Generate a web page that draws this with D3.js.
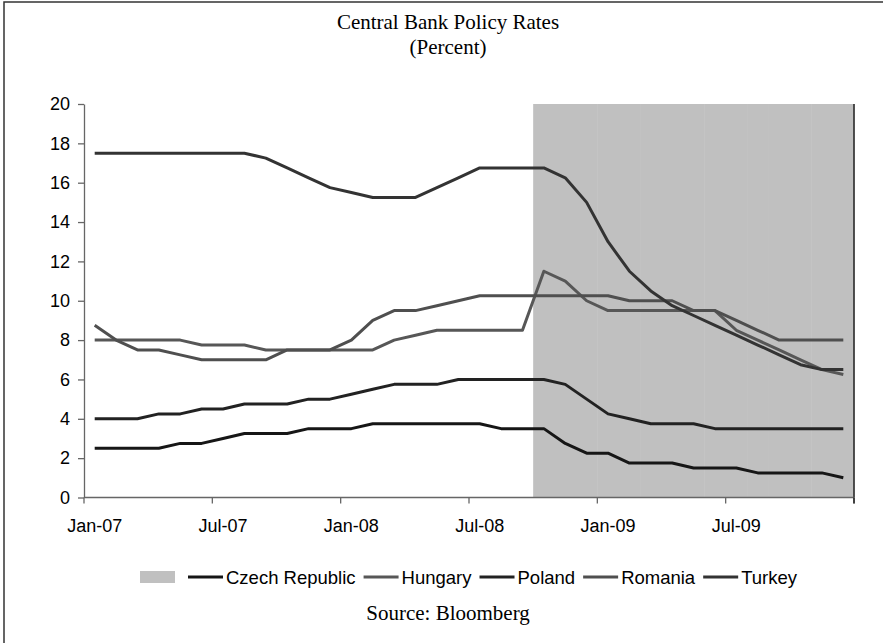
<!DOCTYPE html>
<html>
<head>
<meta charset="utf-8">
<script src="https://cdn.jsdelivr.net/npm/d3@7/dist/d3.min.js"></script>
<style>
  body { margin: 0; background: #fff; }
  svg { display: block; }
</style>
</head>
<body>
<svg id="chart" width="883" height="643"></svg>
<script>
// Monthly observations, Jan-2007 .. Dec-2009
const months = [
  "Jan-07","Feb-07","Mar-07","Apr-07","May-07","Jun-07","Jul-07","Aug-07","Sep-07","Oct-07","Nov-07","Dec-07",
  "Jan-08","Feb-08","Mar-08","Apr-08","May-08","Jun-08","Jul-08","Aug-08","Sep-08","Oct-08","Nov-08","Dec-08",
  "Jan-09","Feb-09","Mar-09","Apr-09","May-09","Jun-09","Jul-09","Aug-09","Sep-09","Oct-09","Nov-09","Dec-09"
];

const czechRepublic = [2.5,2.5,2.5,2.5,2.75,2.75,3.0,3.25,3.25,3.25,3.5,3.5,
                       3.5,3.75,3.75,3.75,3.75,3.75,3.75,3.5,3.5,3.5,2.75,2.25,
                       2.25,1.75,1.75,1.75,1.5,1.5,1.5,1.25,1.25,1.25,1.25,1.0];
const hungary       = [8.0,8.0,8.0,8.0,8.0,7.75,7.75,7.75,7.5,7.5,7.5,7.5,
                       7.5,7.5,8.0,8.25,8.5,8.5,8.5,8.5,8.5,11.5,11.0,10.0,
                       9.5,9.5,9.5,9.5,9.5,9.5,8.5,8.0,7.5,7.0,6.5,6.25];
const poland        = [4.0,4.0,4.0,4.25,4.25,4.5,4.5,4.75,4.75,4.75,5.0,5.0,
                       5.25,5.5,5.75,5.75,5.75,6.0,6.0,6.0,6.0,6.0,5.75,5.0,
                       4.25,4.0,3.75,3.75,3.75,3.5,3.5,3.5,3.5,3.5,3.5,3.5];
const romania       = [8.75,8.0,7.5,7.5,7.25,7.0,7.0,7.0,7.0,7.5,7.5,7.5,
                       8.0,9.0,9.5,9.5,9.75,10.0,10.25,10.25,10.25,10.25,10.25,10.25,
                       10.25,10.0,10.0,10.0,9.5,9.5,9.0,8.5,8.0,8.0,8.0,8.0];
const turkey        = [17.5,17.5,17.5,17.5,17.5,17.5,17.5,17.5,17.25,16.75,16.25,15.75,
                       15.5,15.25,15.25,15.25,15.75,16.25,16.75,16.75,16.75,16.75,16.25,15.0,
                       13.0,11.5,10.5,9.75,9.25,8.75,8.25,7.75,7.25,6.75,6.5,6.5];

const seriesNames  = ["Czech Republic","Hungary","Poland","Romania","Turkey"];
const seriesColors = ["#161616","#575757","#222222","#4f4f4f","#333333"];
const seriesValues = [czechRepublic, hungary, poland, romania, turkey];

// Shaded crisis period (bar series at the top of the scale)
const shadedMonths = months.slice(months.indexOf("Oct-08"));
const shadedValue = 20;

const yTicks = [0,2,4,6,8,10,12,14,16,18,20];
const xLabelMonths = ["Jan-07","Jul-07","Jan-08","Jul-08","Jan-09","Jul-09"];

const titleLines = ["Central Bank Policy Rates","(Percent)"];
const sourceText = "Source: Bloomberg";

const svg = d3.select("#chart");
const sans = "'Liberation Sans', Arial, sans-serif";
const serif = "'Liberation Serif', 'Times New Roman', serif";
const axisColor = "#666";

// outer frame
svg.append("rect")
  .attr("x", 4).attr("y", 2).attr("width", 960).attr("height", 720)
  .attr("fill", "none").attr("stroke", "#333").attr("stroke-width", 1.5);

const plot = { left: 84, right: 854, top: 104, bottom: 497.5 };

const x = d3.scaleBand().domain(months).range([plot.left, plot.right]).padding(0);
const y = d3.scaleLinear().domain([0, 20]).range([plot.bottom, plot.top]);
const cx = m => x(m) + x.bandwidth() / 2;

// shaded period
svg.append("g").selectAll("rect")
  .data(shadedMonths)
  .join("rect")
  .attr("x", d => x(d))
  .attr("width", x.bandwidth() + 0.5)
  .attr("y", y(shadedValue))
  .attr("height", y(0) - y(shadedValue))
  .attr("fill", "#c0c0c0");

// right edge of the shaded block
svg.append("line")
  .attr("x1", plot.right).attr("x2", plot.right)
  .attr("y1", y(shadedValue)).attr("y2", y(0))
  .attr("stroke", "#222").attr("stroke-width", 1.5);

// y axis
const yAxis = svg.append("g")
  .attr("transform", `translate(${plot.left},0)`)
  .call(d3.axisLeft(y).tickValues(yTicks).tickSize(6).tickSizeOuter(0).tickPadding(8));
yAxis.select(".domain").attr("stroke", axisColor).attr("stroke-width", 1.3);
yAxis.selectAll(".tick line").attr("stroke", axisColor).attr("stroke-width", 1.3);
yAxis.selectAll(".tick text")
  .attr("font-family", sans).attr("font-size", 18).attr("fill", "#000");

// x axis: ticks on month boundaries every six months, labels centred on the month
const xAxis = svg.append("g");
xAxis.append("line")
  .attr("x1", plot.left).attr("x2", plot.right)
  .attr("y1", y(0)).attr("y2", y(0))
  .attr("stroke", axisColor).attr("stroke-width", 1.3);
const tickEdges = xLabelMonths.map(m => x(m)).concat([plot.right]);
xAxis.selectAll("line.tick")
  .data(tickEdges)
  .join("line")
  .attr("class", "tick")
  .attr("x1", d => d).attr("x2", d => d)
  .attr("y1", y(0)).attr("y2", y(0) + 6)
  .attr("stroke", axisColor).attr("stroke-width", 1.3);
xAxis.selectAll("text")
  .data(xLabelMonths)
  .join("text")
  .attr("x", d => cx(d))
  .attr("y", 532)
  .attr("text-anchor", "middle")
  .attr("font-family", sans).attr("font-size", 18).attr("fill", "#000")
  .text(d => d);
// right tick mark continues the shaded block edge
svg.append("line")
  .attr("x1", plot.right).attr("x2", plot.right)
  .attr("y1", y(0)).attr("y2", y(0) + 6)
  .attr("stroke", "#222").attr("stroke-width", 1.5);

// series lines
const line = d3.line()
  .x((d, i) => cx(months[i]))
  .y(d => y(d));

svg.append("g").selectAll("path")
  .data(seriesValues)
  .join("path")
  .attr("d", d => line(d))
  .attr("fill", "none")
  .attr("stroke", (d, i) => seriesColors[i])
  .attr("stroke-width", 3)
  .attr("stroke-linejoin", "round");

// title
svg.append("g").selectAll("text")
  .data(titleLines)
  .join("text")
  .attr("x", 448)
  .attr("y", (d, i) => 29 + i * 25)
  .attr("text-anchor", "middle")
  .attr("font-family", serif).attr("font-size", 21).attr("fill", "#000")
  .text(d => d);

// legend
const legend = svg.append("g");
const legendY = 577;
let lx = 140;
legend.append("rect")
  .attr("x", lx).attr("y", legendY - 6).attr("width", 35).attr("height", 12)
  .attr("fill", "#c0c0c0");
lx += 35 + 13;
seriesNames.forEach((name, i) => {
  legend.append("line")
    .attr("x1", lx).attr("x2", lx + 35)
    .attr("y1", legendY).attr("y2", legendY)
    .attr("stroke", seriesColors[i]).attr("stroke-width", 3);
  const t = legend.append("text")
    .attr("x", lx + 38).attr("y", legendY + 6.5)
    .attr("font-family", sans).attr("font-size", 18.5).attr("fill", "#000")
    .text(name);
  lx += 38 + t.node().getComputedTextLength() + 8;
});

// source note
svg.append("text")
  .attr("x", 448).attr("y", 620)
  .attr("text-anchor", "middle")
  .attr("font-family", serif).attr("font-size", 21).attr("fill", "#000")
  .text(sourceText);
</script>
</body>
</html>
